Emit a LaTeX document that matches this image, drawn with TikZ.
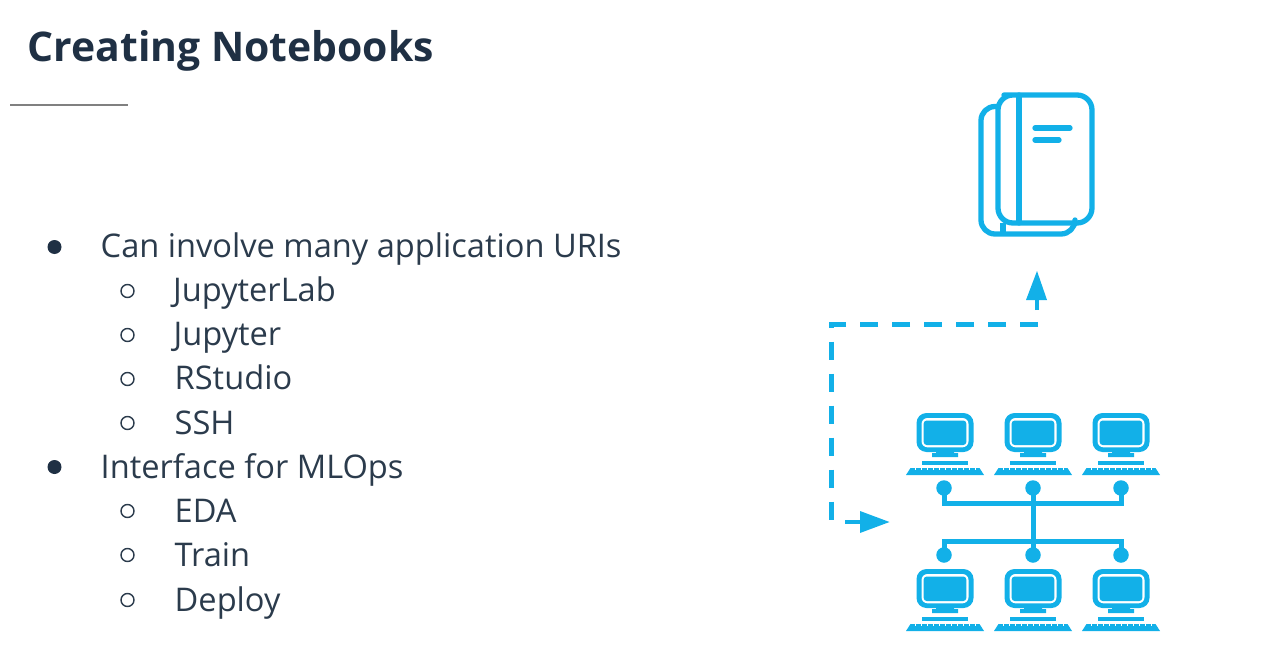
\documentclass[tikz,border=0pt]{standalone}
\usepackage{fontspec}
\setmainfont{Open Sans}
\definecolor{ink}{HTML}{2B3B4C}
\definecolor{titleink}{HTML}{1F3044}
\definecolor{cy}{HTML}{12B0E8}
\tikzset{
  itemtext/.style={anchor=base west,inner sep=0pt,text=ink,font=\fontsize{32.6}{32.6}\selectfont},
  bull/.style={circle,fill=titleink,inner sep=0pt,minimum size=14pt},
  hollow/.style={circle,draw=ink,line width=1.4pt,inner sep=0pt,minimum size=13pt},
  bookline/.style={draw=cy,line width=5.3pt,line cap=round,line join=round},
  netline/.style={draw=cy,line width=5pt},
  dot/.style={circle,fill=cy,inner sep=0pt,minimum size=15.5pt},
  dashline/.style={draw=cy,line width=5pt,dash pattern=on 18pt off 14pt},
  pc/.pic={
    \fill[cy,rounded corners=10pt] (-28.5,0) rectangle (28.5,39);
    \fill[white,rounded corners=6pt] (-23.5,5) rectangle (23.5,34.3);
    \fill[cy,rounded corners=3pt] (-21.3,7.5) rectangle (21.3,32);
    \fill[cy] (-9,38) -- (9,38) -- (9,40) -- (13,40) -- (13,44) -- (-13,44) -- (-13,40) -- (-9,40) -- cycle;
    \fill[cy] (-23,47.5) rectangle (23,51.5);
    \fill[cy] (-34.5,55) -- (34.5,55) -- (39,62) -- (-39,62) -- cycle;
    \foreach \k in {-30,-24,...,30} {\fill[white] (\k-.5,54.5) rectangle (\k+.5,56.5);}
  }
}
\begin{document}
\begin{tikzpicture}[x=1pt,y=-1pt]
\useasboundingbox (0,0) rectangle (1267,669);
\node[anchor=base west,inner sep=0pt,text=titleink,font=\fontsize{40.9}{40.9}\selectfont\bfseries] (title) at (27.5,61.5) {Creating Notebooks};
\coordinate (ruleL) at (10,105); \coordinate (ruleR) at (128,105);
\draw[gray,line width=1.2pt] (ruleL) -- (ruleR);
% list
\foreach \nm/\yy/\xx/\txt in {
 a/257/100.5/Can involve many application URIs,
 b/301.5/173/JupyterLab,
 c/345.5/173.5/Jupyter,
 d/389.5/174.5/RStudio,
 e/434/174.5/SSH,
 f/478/100.5/Interface for MLOps,
 g/522.5/174.5/EDA,
 h/566.5/174.5/Train,
 i/611/174.5/Deploy}{
  \node[itemtext] (t\nm) at (\xx,\yy) {\txt};
}
\foreach \nm/\yy in {a/247,f/467}{\node[bull] (m\nm) at (54.5,\yy) {};}
\foreach \nm/\yy in {b/291,c/335,d/379,e/423,g/511,h/555,i/600}{\node[hollow] (m\nm) at (127.5,\yy) {};}
% book
\path[bookline,rounded corners=15pt] (1019,95) -- (1092,95) -- (1092,223) -- (998,223) -- (998,95) -- cycle;
\path[bookline] (1019,95) -- (1019,223);
\path[bookline] (1035,128) -- (1070,128);
\path[bookline] (1035,140) -- (1059,140);
\path[bookline,rounded corners=14pt] (997,106.5) -- (981,106.5) -- (981,234) -- (1075,234) -- (1075,224);
\path[bookline,line cap=butt] (1003,223) -- (1003,234);
% computers
\foreach \nm/\x/\y in {p1/945/413,p2/1033/413,p3/1121/413,q1/945/569,q2/1033/569,q3/1121/569}{
  \pic at (\x,\y) {pc};
}
% network
\node[dot] (d1) at (944,488) {};
\node[dot] (d2) at (1033,488) {};
\node[dot] (d3) at (1121,488) {};
\node[dot] (e1) at (944,555) {};
\node[dot] (e2) at (1033,555) {};
\node[dot] (e3) at (1121,555) {};
\path[netline] (d1.center) -- ++(0,15) -- ++(177,0) -- (d3.center);
\path[netline] (e1.center) -- ++(0,-14) -- ++(177,0) -- (e3.center);
\path[netline] (d2.center) -- (e2.center);
% dashed route
\coordinate (s) at (1038,324.5); \coordinate (cr) at (831,324.5); \coordinate (en) at (831,522);
\path[dashline] (s) -- (cr) -- (en);
% arrows
\coordinate (u0) at (1037,310); \coordinate (u1) at (1037,296);
\path[draw=cy,line width=4pt] (u0) -- (u1);
\fill[cy] (1037,271) -- (1047,300) -- (1026,300) -- cycle;
\coordinate (r0) at (845,522); \coordinate (r1) at (864,522);
\path[draw=cy,line width=4pt] (r0) -- (r1);
\fill[cy] (889.5,522) -- (860,511) -- (860,533) -- cycle;
\end{tikzpicture}
\end{document}
